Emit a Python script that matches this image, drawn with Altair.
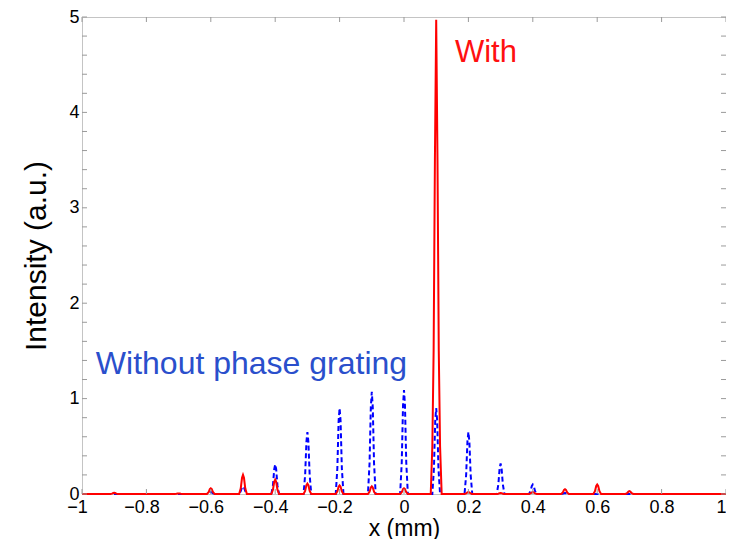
import altair as alt
import pandas as pd

# ---------------- data ----------------
# Without phase grating (blue dashed)
blue_x = [
    -1.0,
    -0.612, -0.607, -0.603, -0.600, -0.597, -0.593, -0.588,
    -0.512, -0.507, -0.503, -0.500, -0.497, -0.493, -0.488,
    -0.412, -0.407, -0.403, -0.400, -0.397, -0.393, -0.388,
    -0.312, -0.307, -0.303, -0.300, -0.297, -0.293, -0.288,
    -0.212, -0.207, -0.203, -0.200, -0.197, -0.193, -0.188,
    -0.112, -0.107, -0.103, -0.100, -0.097, -0.093, -0.088,
    -0.012, -0.007, -0.003, 0.000, 0.003, 0.007, 0.012,
    0.088, 0.093, 0.097, 0.100, 0.103, 0.107, 0.112,
    0.188, 0.193, 0.197, 0.200, 0.203, 0.207, 0.212,
    0.288, 0.293, 0.297, 0.300, 0.303, 0.307, 0.312,
    0.388, 0.393, 0.397, 0.400, 0.403, 0.407, 0.412,
    0.488, 0.493, 0.497, 0.500, 0.503, 0.507, 0.512,
    1.0,
]
blue_y = [
    0,
    0, 0.006, 0.017, 0.02, 0.017, 0.006, 0,
    0, 0.03, 0.07, 0.08, 0.07, 0.03, 0,
    0, 0.09, 0.26, 0.31, 0.26, 0.09, 0,
    0, 0.20, 0.55, 0.65, 0.55, 0.20, 0,
    0, 0.27, 0.77, 0.90, 0.77, 0.27, 0,
    0, 0.32, 0.91, 1.07, 0.91, 0.32, 0,
    0, 0.33, 0.93, 1.09, 0.93, 0.33, 0,
    0, 0.27, 0.77, 0.90, 0.77, 0.27, 0,
    0, 0.20, 0.55, 0.65, 0.55, 0.20, 0,
    0, 0.10, 0.27, 0.32, 0.27, 0.10, 0,
    0, 0.03, 0.085, 0.10, 0.085, 0.03, 0,
    0, 0.003, 0.009, 0.01, 0.009, 0.003, 0,
    0,
]

# With phase grating (red solid)
red_x = [
    -1.0,
    -0.912, -0.907, -0.903, -0.900, -0.897, -0.893, -0.888,
    -0.712, -0.707, -0.703, -0.700, -0.697, -0.693, -0.688,
    -0.612, -0.607, -0.603, -0.600, -0.597, -0.593, -0.588,
    -0.512, -0.507, -0.503, -0.500, -0.497, -0.493, -0.488,
    -0.412, -0.407, -0.403, -0.400, -0.397, -0.393, -0.388,
    -0.312, -0.307, -0.303, -0.300, -0.297, -0.293, -0.288,
    -0.212, -0.207, -0.203, -0.200, -0.197, -0.193, -0.188,
    -0.112, -0.107, -0.103, -0.100, -0.097, -0.093, -0.088,
    -0.012, -0.007, -0.003, 0.000, 0.003, 0.007, 0.012,
    0.083, 0.088, 0.092, 0.096, 0.100, 0.104, 0.108, 0.112, 0.117,
    0.188, 0.193, 0.197, 0.200, 0.203, 0.207, 0.212,
    0.288, 0.293, 0.297, 0.300, 0.303, 0.307, 0.312,
    0.388, 0.393, 0.397, 0.400, 0.403, 0.407, 0.412,
    0.488, 0.493, 0.497, 0.500, 0.503, 0.507, 0.512,
    0.588, 0.593, 0.597, 0.600, 0.603, 0.607, 0.612,
    0.688, 0.693, 0.697, 0.700, 0.703, 0.707, 0.712,
    1.0,
]
red_y = [
    0,
    0, 0.004, 0.010, 0.012, 0.010, 0.004, 0,
    0, 0.002, 0.005, 0.006, 0.005, 0.002, 0,
    0, 0.018, 0.051, 0.06, 0.051, 0.018, 0,
    0, 0.06, 0.17, 0.20, 0.17, 0.06, 0,
    0, 0.045, 0.128, 0.15, 0.128, 0.045, 0,
    0, 0.033, 0.094, 0.11, 0.094, 0.033, 0,
    0, 0.027, 0.077, 0.09, 0.077, 0.027, 0,
    0, 0.024, 0.068, 0.08, 0.068, 0.024, 0,
    0, 0.018, 0.051, 0.06, 0.051, 0.018, 0,
    0, 0.5, 1.5, 3.5, 4.97, 3.5, 1.5, 0.5, 0,
    0, 0.006, 0.017, 0.02, 0.017, 0.006, 0,
    0, 0.003, 0.009, 0.01, 0.009, 0.003, 0,
    0, 0.006, 0.017, 0.02, 0.017, 0.006, 0,
    0, 0.015, 0.043, 0.05, 0.043, 0.015, 0,
    0, 0.03, 0.085, 0.10, 0.085, 0.03, 0,
    0, 0.009, 0.026, 0.03, 0.026, 0.009, 0,
    0,
]

x_ticks = [-1.0, -0.8, -0.6, -0.4, -0.2, 0.0, 0.2, 0.4, 0.6, 0.8, 1.0]
y_labels = [0, 1, 2, 3, 4, 5]
y_ticks = [0.0, 0.2, 0.4, 0.6, 0.8, 1.0, 1.2, 1.4, 1.6, 1.8, 2.0, 2.2, 2.4,
           2.6, 2.8, 3.0, 3.2, 3.4, 3.6, 3.8, 4.0, 4.2, 4.4, 4.6, 4.8, 5.0]

annot_with = {"x": [0.158], "y": [4.53], "label": ["With"]}
annot_without = {"x": [-0.957], "y": [1.26], "label": ["Without phase grating"]}

# ---------------- chart ----------------
FONT = "Liberation Sans"
W, H = 644, 477

blue_df = pd.DataFrame({"x": blue_x, "y": blue_y})
red_df = pd.DataFrame({"x": red_x, "y": red_y})
xt_df = pd.DataFrame({"x": x_ticks})
yt_df = pd.DataFrame({"y": y_ticks})

xscale = alt.Scale(domain=[-1, 1], nice=False, zero=False)
yscale = alt.Scale(domain=[0, 5], nice=False, zero=False)

x_axis = alt.Axis(
    values=x_ticks, format="~g", ticks=False, domain=False, grid=False,
    labelFont=FONT, labelFontSize=18, labelColor="black", labelPadding=4,
    labelFlush=False, labelOverlap=False,
    labelAlign={"condition": {"test": "datum.value >= 1", "value": "right"},
                "value": "center"},
    labelOffset={"condition": {"test": "datum.value < 0", "value": -5},
                 "value": 0},
    title="x (mm)", titleFont=FONT, titleFontSize=23, titleFontWeight="normal",
    titleColor="black", titlePadding=1,
)
y_axis = alt.Axis(
    values=y_labels, format="d", ticks=False, domain=False, grid=False,
    labelFont=FONT, labelFontSize=18, labelColor="black", labelPadding=3,
    labelFlush=False, labelOverlap=False,
    title="Intensity (a.u.)", titleFont=FONT, titleFontSize=30,
    titleFontWeight="normal", titleColor="black", titlePadding=17,
)

X = alt.X("x:Q", scale=xscale, axis=x_axis)
Y = alt.Y("y:Q", scale=yscale, axis=y_axis)

blue = alt.Chart(blue_df).mark_line(
    color="#0000ff", strokeWidth=2, strokeDash=[5, 3]
).encode(x=X, y=Y)

red = alt.Chart(red_df).mark_line(color="#ff0000", strokeWidth=2).encode(x=X, y=Y)

TICK = "#9a9a9a"
tick_bottom = alt.Chart(xt_df).mark_rule(color=TICK, strokeWidth=1).encode(
    x=X, y=alt.value(H), y2=alt.value(H - 5)
)
tick_top = alt.Chart(xt_df).mark_rule(color=TICK, strokeWidth=1).encode(
    x=X, y=alt.value(0), y2=alt.value(5)
)
tick_left = alt.Chart(yt_df).mark_rule(color=TICK, strokeWidth=1).encode(
    y=Y, x=alt.value(0), x2=alt.value(5)
)
tick_right = alt.Chart(yt_df).mark_rule(color=TICK, strokeWidth=1).encode(
    y=Y, x=alt.value(W), x2=alt.value(W - 5)
)

txt_with = alt.Chart(pd.DataFrame(annot_with)).mark_text(
    font=FONT, fontSize=31, color="#ff1010", align="left", baseline="alphabetic"
).encode(x=X, y=Y, text="label:N")
txt_without = alt.Chart(pd.DataFrame(annot_without)).mark_text(
    font=FONT, fontSize=32, color="#2a4fcc", align="left", baseline="alphabetic"
).encode(x=X, y=Y, text="label:N")

chart = alt.layer(
    blue, red, tick_bottom, tick_top, tick_left, tick_right, txt_with, txt_without
).properties(
    width=W, height=H,
    autosize=alt.AutoSizeParams(type="none"),
    padding={"left": 74, "top": 9, "right": 0, "bottom": 45},
    background="white",
).configure_view(stroke="#c4c4c4", strokeWidth=1)

chart.save("out.html", embed_options={"renderer": "svg", "actions": False})
